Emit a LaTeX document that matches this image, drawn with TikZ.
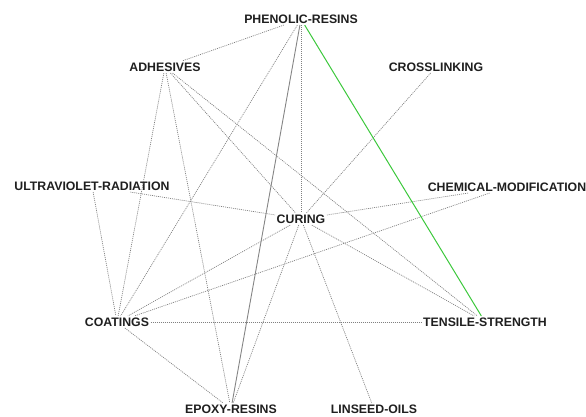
\documentclass[tikz,border=0pt]{standalone}
\usepackage{fontspec}
\setmainfont{Liberation Sans}
\begin{document}
\begin{tikzpicture}[x=1pt,y=-1pt,
  lbl/.style={inner sep=1.5pt, text=black!88, font=\fontsize{12.3}{14}\selectfont\bfseries},
  dotedge/.style={draw=black!50, line width=0.7pt, dash pattern=on 1pt off 1pt},
  grayedge/.style={draw=black!48, line width=0.9pt},
  greenedge/.style={draw={rgb,255:red,60;green,200;blue,60}, line width=1pt}]
\useasboundingbox (0,0) rectangle (586,416);
\node[lbl] (phe) at (301,19) {PHENOLIC-RESINS};
\node[lbl] (adh) at (165,67) {ADHESIVES};
\node[lbl] (cro) at (436,67) {CROSSLINKING};
\node[lbl] (uv)  at (92,186) {ULTRAVIOLET-RADIATION};
\node[lbl] (che) at (507,187) {CHEMICAL-MODIFICATION};
\node[lbl] (cur) at (301,219) {CURING};
\node[lbl] (coa) at (117,322) {COATINGS};
\node[lbl] (ten) at (485,322) {TENSILE-STRENGTH};
\node[lbl] (epo) at (231,409) {EPOXY-RESINS};
\node[lbl] (lin) at (374,409) {LINSEED-OILS};
% dotted edges
\draw[dotedge] (phe) -- (adh);
\draw[dotedge] (phe) -- (coa);
\draw[dotedge] (phe) -- (cur);
\draw[dotedge] (adh) -- (coa);
\draw[dotedge] (adh) -- (epo);
\draw[dotedge] (adh) -- (cur);
\draw[dotedge] (adh) -- (ten);
\draw[dotedge] (cro) -- (cur);
\draw[dotedge] (uv) -- (cur);
\draw[dotedge] (uv) -- (coa);
\draw[dotedge] (che) -- (cur);
\draw[dotedge] (che) -- (coa);
\draw[dotedge] (cur) -- (coa);
\draw[dotedge] (cur) -- (epo);
\draw[dotedge] (cur) -- (lin);
\draw[dotedge] (cur) -- (ten);
\draw[dotedge] (coa) -- (ten);
\draw[dotedge] (coa) -- (epo);
% solid edges
\draw[grayedge] (phe) -- (epo);
\draw[greenedge] (phe) -- (ten);
\end{tikzpicture}
\end{document}
